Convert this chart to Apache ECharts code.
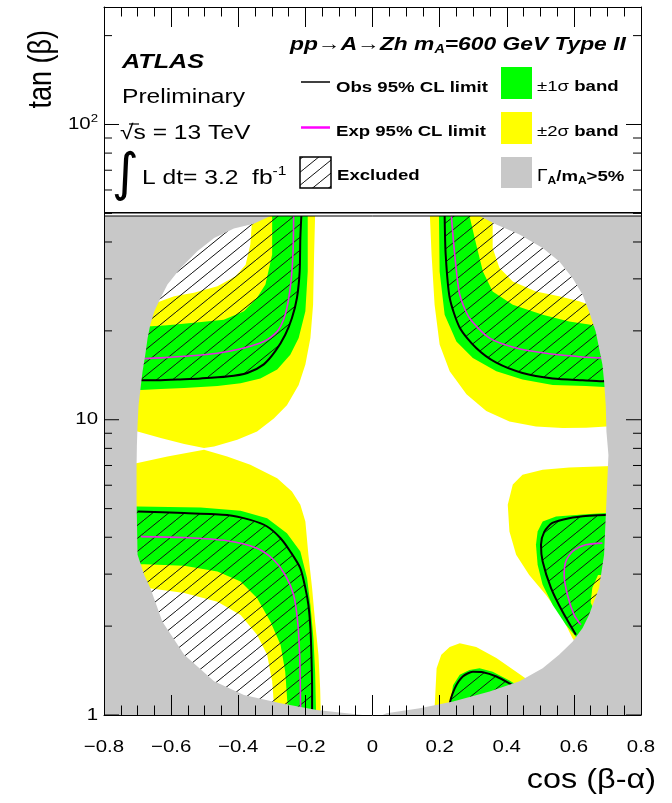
<!DOCTYPE html>
<html><head><meta charset="utf-8">
<script src="https://cdn.jsdelivr.net/npm/echarts@6/dist/echarts.min.js"></script>
<style>html,body{margin:0;padding:0;background:#fff}#c{width:672px;height:803px}</style>
</head><body><div id="c"></div>
<script>
// ---------------- data (cos(beta-alpha), tan(beta)) ----------------
const xTickLabels = [-0.8, -0.6, -0.4, -0.2, 0, 0.2, 0.4, 0.6, 0.8];
const yLabelValues = [1, 10, 100];
const yLabelTexts = ['1', '10', '10{s|2}'];
const yMajorTicks = [1, 10, 100];
const yMinorTicks = [2, 3, 4, 5, 6, 7, 8, 9, 20, 30, 40, 50, 60, 70, 80, 90, 200];

// boundary of the region with Gamma_A/m_A < 5% (white region)
const validBoundary = [[-0.304,49],[-0.354,46.1],[-0.413,44.4],[-0.472,41.3],[-0.522,37.2],[-0.571,32.7],[-0.611,28.7],[-0.631,25.9],[-0.650,23.3],[-0.662,21.0],[-0.670,18.9],[-0.677,16.6],[-0.685,14.6],[-0.690,13.1],[-0.697,11.2],[-0.700,9.6],[-0.702,8.2],[-0.703,6.9],[-0.703,5.35],[-0.700,3.49],[-0.680,2.98],[-0.662,2.69],[-0.626,2.07],[-0.561,1.60],[-0.472,1.30],[-0.383,1.169],[-0.274,1.096],[-0.166,1.04],[-0.077,1.013],[-0.03,1.0],[0.03,1.0],[0.042,1.013],[0.141,1.054],[0.240,1.11],[0.349,1.20],[0.438,1.30],[0.507,1.44],[0.556,1.60],[0.596,1.77],[0.626,1.97],[0.645,2.18],[0.675,2.69],[0.690,3.49],[0.703,7.6],[0.697,9.13],[0.695,11.2],[0.690,13.5],[0.685,15.4],[0.675,17.5],[0.665,19.9],[0.645,23.3],[0.626,26.5],[0.596,30.2],[0.556,34.4],[0.507,38.2],[0.438,42.4],[0.369,45.8],[0.319,49]];

// upper-left
const ulYellow = [[-0.171,49],[-0.174,36.3],[-0.177,24.5],[-0.185,18.9],[-0.200,15.4],[-0.220,13.1],[-0.255,11.2],[-0.294,10.1],[-0.344,9.13],[-0.403,8.55],[-0.472,8.12],[-0.502,8.02],[-0.561,8.27],[-0.631,8.67],[-0.700,9.13],[-0.749,9.4],[-0.8,9.4],[-0.8,49]];
const ulWhite = [[-0.358,49],[-0.364,39.2],[-0.378,33.5],[-0.408,30.6],[-0.462,28.3],[-0.532,26.9],[-0.591,26.2],[-0.660,24.5],[-0.749,23.6],[-0.8,23.6],[-0.8,49]];
const ulGreen = [[-0.193,49],[-0.193,31.8],[-0.200,23.3],[-0.220,18.9],[-0.245,16.6],[-0.284,14.8],[-0.334,13.8],[-0.393,13.3],[-0.462,13.0],[-0.561,12.8],[-0.631,12.7],[-0.690,12.6],[-0.749,12.6],[-0.749,20.7],[-0.670,20.7],[-0.611,20.9],[-0.532,21.3],[-0.443,21.8],[-0.383,23.3],[-0.344,25.9],[-0.319,28.7],[-0.299,36.3],[-0.299,49]];
const ulObs = [[-0.212,49],[-0.215,41.3],[-0.217,31.8],[-0.225,25.9],[-0.240,22.1],[-0.260,19.4],[-0.289,17.1],[-0.324,15.4],[-0.373,14.4],[-0.433,14.0],[-0.512,13.8],[-0.581,13.7],[-0.650,13.6],[-0.700,13.6]];
const ulExp = [[-0.235,49],[-0.237,36.3],[-0.245,28.0],[-0.260,22.7],[-0.284,19.9],[-0.324,18.4],[-0.383,17.5],[-0.462,16.8],[-0.561,16.4],[-0.631,16.2],[-0.690,16.1]];

// lower-left
const llYellow = [[-0.8,6.98],[-0.749,6.98],[-0.700,7.13],[-0.611,7.51],[-0.502,7.91],[-0.433,7.51],[-0.364,7.04],[-0.284,6.34],[-0.240,5.71],[-0.215,5.15],[-0.200,4.52],[-0.191,3.49],[-0.180,2.69],[-0.171,2.07],[-0.161,1.60],[-0.156,1.23],[-0.154,1.0],[-0.8,1.0]];
const llWhite = [[-0.8,2.70],[-0.749,2.70],[-0.670,2.69],[-0.561,2.59],[-0.462,2.42],[-0.393,2.18],[-0.344,1.87],[-0.314,1.60],[-0.299,1.30],[-0.294,1.096],[-0.292,1.0],[-0.8,1.0]];
const llGreen = [[-0.8,5.08],[-0.700,5.08],[-0.512,5.04],[-0.393,4.92],[-0.314,4.64],[-0.255,4.13],[-0.215,3.58],[-0.195,2.91],[-0.185,2.36],[-0.176,1.82],[-0.171,1.40],[-0.168,1.0],[-0.252,1.0],[-0.253,1.08],[-0.260,1.40],[-0.274,1.73],[-0.304,2.07],[-0.344,2.49],[-0.393,2.83],[-0.462,3.06],[-0.561,3.20],[-0.680,3.24],[-0.8,3.24]];
const llObs = [[-0.700,4.89],[-0.561,4.83],[-0.433,4.76],[-0.364,4.58],[-0.314,4.35],[-0.274,3.97],[-0.245,3.58],[-0.215,3.14],[-0.200,2.69],[-0.191,2.36],[-0.185,1.97],[-0.182,1.60],[-0.180,1.23],[-0.180,1.0]];
const llExp = [[-0.690,4.02],[-0.561,3.99],[-0.433,3.89],[-0.344,3.67],[-0.294,3.35],[-0.260,2.98],[-0.235,2.55],[-0.223,2.07],[-0.217,1.60],[-0.215,1.23],[-0.214,1.0]];

// lower-right (right blob)
const lrYellow = [[0.734,6.98],[0.586,6.89],[0.507,6.77],[0.447,6.51],[0.418,6.03],[0.403,5.15],[0.408,4.18],[0.428,3.49],[0.467,2.98],[0.517,2.55],[0.566,2.13],[0.596,1.82],[0.631,1.60],[0.734,1.60]];
const lrGreen = [[0.492,4.18],[0.507,4.52],[0.547,4.70],[0.636,4.79],[0.697,4.83],[0.734,4.84],[0.734,1.80],[0.606,1.84],[0.576,2.02],[0.537,2.36],[0.507,2.76],[0.492,3.23],[0.487,3.77]];
const lrYellowInner = [[0.672,2.98],[0.655,2.70],[0.650,2.40],[0.662,2.25],[0.720,2.25],[0.720,2.98]];
const lrObs = [[0.606,1.87],[0.566,2.24],[0.532,2.69],[0.507,3.31],[0.502,3.77],[0.512,4.18],[0.536,4.47],[0.586,4.64],[0.645,4.73],[0.695,4.76],[0.705,4.76]];
const lrExp = [[0.685,3.82],[0.636,3.77],[0.596,3.58],[0.576,3.31],[0.571,2.98],[0.581,2.55],[0.601,2.18],[0.621,2.02]];

// bottom blob (low tan beta, positive cos)
const bYellow = [[0.185,1.0],[0.185,1.054],[0.191,1.44],[0.205,1.60],[0.230,1.70],[0.260,1.75],[0.309,1.70],[0.369,1.56],[0.428,1.40],[0.477,1.28],[0.512,1.22],[0.512,1.0]];
const bGreen = [[0.224,1.0],[0.230,1.067],[0.240,1.26],[0.260,1.37],[0.289,1.42],[0.319,1.44],[0.358,1.40],[0.408,1.31],[0.447,1.23],[0.482,1.17],[0.482,1.0]];
const bObs = [[0.230,1.0],[0.230,1.075],[0.245,1.23],[0.269,1.35],[0.299,1.40],[0.329,1.395],[0.369,1.35],[0.408,1.28],[0.433,1.23],[0.453,1.20]];
const bExp = [[0.329,1.14],[0.369,1.15],[0.393,1.15]];

// upper-right
const urYellow = [[0.171,49],[0.176,36.3],[0.185,24.5],[0.200,18.0],[0.230,14.6],[0.280,12.2],[0.339,10.7],[0.408,9.87],[0.487,9.49],[0.566,9.37],[0.636,9.40],[0.697,9.49],[0.734,9.49],[0.734,49]];
const urWhite = [[0.354,49],[0.358,45.8],[0.358,38.2],[0.378,32.7],[0.418,29.4],[0.487,27.2],[0.556,26.2],[0.616,25.2],[0.645,24.5],[0.734,23.6],[0.734,49]];
const urGreen = [[0.198,49],[0.200,31.8],[0.215,22.7],[0.250,18.4],[0.299,16.2],[0.369,14.6],[0.447,13.7],[0.537,13.1],[0.636,13.0],[0.690,12.9],[0.734,12.8],[0.734,20.7],[0.675,20.7],[0.645,21.0],[0.586,21.5],[0.507,22.7],[0.418,24.5],[0.358,27.2],[0.329,31.8],[0.309,39.2],[0.289,49]];
const urObs = [[0.215,49],[0.218,36.3],[0.230,25.9],[0.260,20.5],[0.309,17.5],[0.369,15.6],[0.447,14.4],[0.537,13.8],[0.626,13.6],[0.685,13.5],[0.699,13.5]];
const urExp = [[0.235,49],[0.245,36.3],[0.260,26.5],[0.289,22.1],[0.349,18.9],[0.428,17.5],[0.517,16.8],[0.606,16.4],[0.675,16.2],[0.693,16.2]];

// ---------------- styling ----------------
const F = '"Liberation Sans", Arial, Helvetica, sans-serif';
const GRAY = '#c8c8c8', YEL = '#ffff00', GRN = '#00ff00', MAG = '#e02ae0';
const SX = 1.2; // horizontal stretch of the original rendering

function hatchCanvas() {
  const c = document.createElement('canvas');
  c.width = 16; c.height = 13;
  const g = c.getContext('2d');
  g.strokeStyle = '#111'; g.lineWidth = 1;
  for (const dx of [-16, 0, 16]) { g.beginPath(); g.moveTo(dx, 13); g.lineTo(dx + 16, 0); g.stroke(); }
  return c;
}
const HATCH = { image: hatchCanvas(), repeat: 'repeat' };

function poly(pts, fill, z) {
  return {
    type: 'custom', z: z, silent: true, clip: false, animation: false,
    data: [pts[0]],
    renderItem: (p, api) => ({
      type: 'polygon',
      shape: { points: pts.map(q => api.coord(q)) },
      style: { fill: fill, stroke: null }
    })
  };
}
function line(pts, color, width, z) {
  return { type: 'line', data: pts, showSymbol: false, smooth: 0.25, z: z, silent: true, animation: false,
    lineStyle: { color: color, width: width } };
}

const mask = validBoundary.concat([[0.8, 49], [0.8, 1], [-0.8, 1], [-0.8, 49]]);

const series = [
  poly(ulYellow, YEL, 1), poly(llYellow, YEL, 1), poly(lrYellow, YEL, 1), poly(bYellow, YEL, 1), poly(urYellow, YEL, 1),
  poly(ulWhite, '#fff', 2), poly(llWhite, '#fff', 2), poly(urWhite, '#fff', 2),
  poly(ulGreen, GRN, 3), poly(llGreen, GRN, 3), poly(lrGreen, GRN, 3), poly(bGreen, GRN, 3), poly(urGreen, GRN, 3),
  poly(lrYellowInner, YEL, 4),
  poly(ulObs.concat([[-0.8, 13.6], [-0.8, 49]]), HATCH, 5),
  poly(llObs.concat([[-0.8, 1.0], [-0.8, 4.89]]), HATCH, 5),
  poly(lrObs.concat([[0.8, 4.76], [0.8, 1.87]]), HATCH, 5),
  poly(bObs.concat([[0.453, 1.0]]), HATCH, 5),
  poly(urObs.concat([[0.8, 13.5], [0.8, 49]]), HATCH, 5),
  line(ulExp, MAG, 1.6, 6), line(llExp, MAG, 1.6, 6), line(lrExp, MAG, 1.6, 6), line(bExp, MAG, 1.6, 6), line(urExp, MAG, 1.6, 6),
  line(ulObs, '#000', 2, 6), line(llObs, '#000', 2, 6), line(lrObs, '#000', 2, 6), line(bObs, '#000', 2, 6), line(urObs, '#000', 2, 6),
  poly(mask, GRAY, 7),
  // y ticks (left and right, inside)
  {
    type: 'custom', z: 12, silent: true, clip: false, animation: false,
    data: yMajorTicks.map(v => [-0.8, v, 1]).concat(yMinorTicks.map(v => [-0.8, v, 0])),
    renderItem: (p, api) => {
      const t = api.value(1), len = api.value(2) ? 15 : 8;
      const a = api.coord([-0.8, t]), b = api.coord([0.8, t]);
      return { type: 'group', children: [
        { type: 'line', shape: { x1: a[0], y1: a[1], x2: a[0] + len, y2: a[1] }, style: { stroke: '#000', lineWidth: 1 } },
        { type: 'line', shape: { x1: b[0], y1: b[1], x2: b[0] - len, y2: b[1] }, style: { stroke: '#000', lineWidth: 1 } }
      ] };
    }
  },
  // x tick labels
  {
    type: 'custom', z: 12, silent: true, clip: false, animation: false,
    data: xTickLabels.map(v => [v, 1]),
    renderItem: (p, api) => {
      const v = api.value(0), c = api.coord([v, 1]);
      const txt = Math.abs(v) < 1e-9 ? '0' : (v < 0 ? '\u2212' : '') + Math.abs(v).toFixed(1);
      return { type: 'text', x: c[0], y: c[1] + 32, scaleX: SX,
        style: { text: txt, font: `17px ${F}`, fill: '#000', align: 'center', verticalAlign: 'middle' } };
    }
  },
  // y tick labels
  {
    type: 'custom', z: 12, silent: true, clip: false, animation: false,
    data: yLabelValues.map(v => [-0.8, v]),
    renderItem: (p, api) => {
      const c = api.coord([-0.8, api.value(1)]);
      return { type: 'text', x: c[0] - 6, y: c[1], scaleX: SX,
        style: { text: yLabelTexts[p.dataIndex], font: `17px ${F}`, fill: '#000', align: 'right', verticalAlign: 'middle',
          rich: { s: { font: `11px ${F}`, padding: [0, 0, 12, 0] } } } };
    }
  }
];

const axisBase = {
  axisLine: { show: true, onZero: false, lineStyle: { color: '#000', width: 1 } },
  splitLine: { show: false }, axisLabel: { show: false }, z: 10
};

const T = (o) => Object.assign({ z: 100, silent: true }, o);
const graphic = [
  // legend pave bottom border (double line)
  T({ type: 'line', shape: { x1: 104, y1: 212.7, x2: 641, y2: 212.7 }, style: { stroke: '#000', lineWidth: 1.5 } }),
  T({ type: 'line', shape: { x1: 104, y1: 216, x2: 641, y2: 216 }, style: { stroke: '#000', lineWidth: 1 } }),
  // left block
  T({ type: 'text', x: 122, y: 62, scaleX: SX, style: { text: 'ATLAS', font: `italic bold 21px ${F}`, fill: '#000', verticalAlign: 'middle' } }),
  T({ type: 'text', x: 122, y: 97, scaleX: SX, style: { text: 'Preliminary', font: `20.5px ${F}`, fill: '#000', verticalAlign: 'middle' } }),
  T({ type: 'text', x: 120, y: 133, scaleX: SX, style: { text: '\u221As = 13 TeV', font: `20.5px ${F}`, fill: '#000', verticalAlign: 'middle' } }),
  T({ type: 'line', shape: { x1: 129, y1: 124, x2: 139, y2: 124 }, style: { stroke: '#000', lineWidth: 1.2 } }),
  T({ type: 'text', x: 125, y: 176, style: { text: '\u222B', font: `52px "DejaVu Sans", ${F}`, fill: '#000', align: 'center', verticalAlign: 'middle' } }),
  T({ type: 'text', x: 142, y: 178, scaleX: SX, style: { text: 'L dt= 3.2  fb{s|-1}', font: `20.5px ${F}`, fill: '#000', verticalAlign: 'middle',
      rich: { s: { font: `13px ${F}`, padding: [0, 0, 14, 0] } } } }),
  // title
  T({ type: 'text', x: 290, y: 45, scaleX: SX, style: { text: 'pp\u2192A\u2192Zh m{s|A}=600 GeV Type II', font: `italic bold 19px ${F}`, fill: '#000', verticalAlign: 'middle',
      rich: { s: { font: `italic bold 12px ${F}`, padding: [10, 0, 0, 0] } } } }),
  // legend entries
  T({ type: 'line', shape: { x1: 301, y1: 82, x2: 330, y2: 82 }, style: { stroke: '#000', lineWidth: 1.5 } }),
  T({ type: 'text', x: 336, y: 87.5, scaleX: SX, style: { text: 'Obs 95% CL limit', font: `bold 15.5px ${F}`, fill: '#000', verticalAlign: 'middle' } }),
  T({ type: 'line', shape: { x1: 301, y1: 127.5, x2: 330, y2: 127.5 }, style: { stroke: '#ff00ff', lineWidth: 2.5 } }),
  T({ type: 'text', x: 336, y: 132, scaleX: SX, style: { text: 'Exp 95% CL limit', font: `bold 15.5px ${F}`, fill: '#000', verticalAlign: 'middle' } }),
  T({ type: 'rect', shape: { x: 300, y: 157, width: 31, height: 31 }, style: { fill: HATCH, stroke: '#000', lineWidth: 1.5 } }),
  T({ type: 'text', x: 337, y: 176, scaleX: SX, style: { text: 'Excluded', font: `bold 15.5px ${F}`, fill: '#000', verticalAlign: 'middle' } }),
  T({ type: 'rect', shape: { x: 501, y: 67, width: 31, height: 32 }, style: { fill: GRN } }),
  T({ type: 'rect', shape: { x: 501, y: 112, width: 31, height: 32 }, style: { fill: YEL } }),
  T({ type: 'rect', shape: { x: 501, y: 157, width: 31, height: 31 }, style: { fill: GRAY } }),
  T({ type: 'text', x: 537, y: 87, scaleX: SX, style: { text: '{r|\u00B11\u03C3} band', font: `bold 15.5px ${F}`, fill: '#000', verticalAlign: 'middle',
      rich: { r: { font: `15.5px ${F}` } } } }),
  T({ type: 'text', x: 537, y: 132, scaleX: SX, style: { text: '{r|\u00B12\u03C3} band', font: `bold 15.5px ${F}`, fill: '#000', verticalAlign: 'middle',
      rich: { r: { font: `15.5px ${F}` } } } }),
  T({ type: 'text', x: 537, y: 177, scaleX: SX, style: { text: '{r|\u0393}{s|A}/m{s|A}>5%', font: `bold 15.5px ${F}`, fill: '#000', verticalAlign: 'middle',
      rich: { r: { font: `16px ${F}` }, s: { font: `bold 10px ${F}`, padding: [9, 0, 0, 0] } } } }),
  // axis titles
  T({ type: 'text', x: 656, y: 781, scaleX: SX, style: { text: 'cos (\u03B2-\u03B1)', font: `27px ${F}`, fill: '#000', align: 'right', verticalAlign: 'middle' } }),
  T({ type: 'text', x: 42, y: 30, rotation: Math.PI / 2, scaleY: SX, style: { text: 'tan (\u03B2)', font: `27px ${F}`, fill: '#000', align: 'right', verticalAlign: 'middle' } })
];

const option = {
  animation: false,
  backgroundColor: '#fff',
  grid: { left: 104, right: 31, top: 7, bottom: 88, containLabel: false },
  xAxis: [
    Object.assign({ type: 'value', min: -0.8, max: 0.8, interval: 0.2, position: 'bottom',
      axisTick: { show: true, inside: true, length: 20, lineStyle: { color: '#000' } },
      minorTick: { show: true, splitNumber: 4, length: 9.5, lineStyle: { color: '#000' } } }, axisBase),
    Object.assign({ type: 'value', min: -0.8, max: 0.8, interval: 0.2, position: 'top',
      axisTick: { show: true, inside: true, length: 20, lineStyle: { color: '#000' } },
      minorTick: { show: true, splitNumber: 4, length: 9.5, lineStyle: { color: '#000' } } }, axisBase)
  ],
  yAxis: [
    Object.assign({ type: 'log', logBase: 10, min: 1, max: 250, position: 'left', axisTick: { show: false } }, axisBase),
    Object.assign({ type: 'log', logBase: 10, min: 1, max: 250, position: 'right', axisTick: { show: false } }, axisBase)
  ],
  series: series,
  graphic: graphic
};

const chart = echarts.init(document.getElementById('c'), null, { renderer: 'canvas' });
chart.setOption(option);
</script></body></html>
